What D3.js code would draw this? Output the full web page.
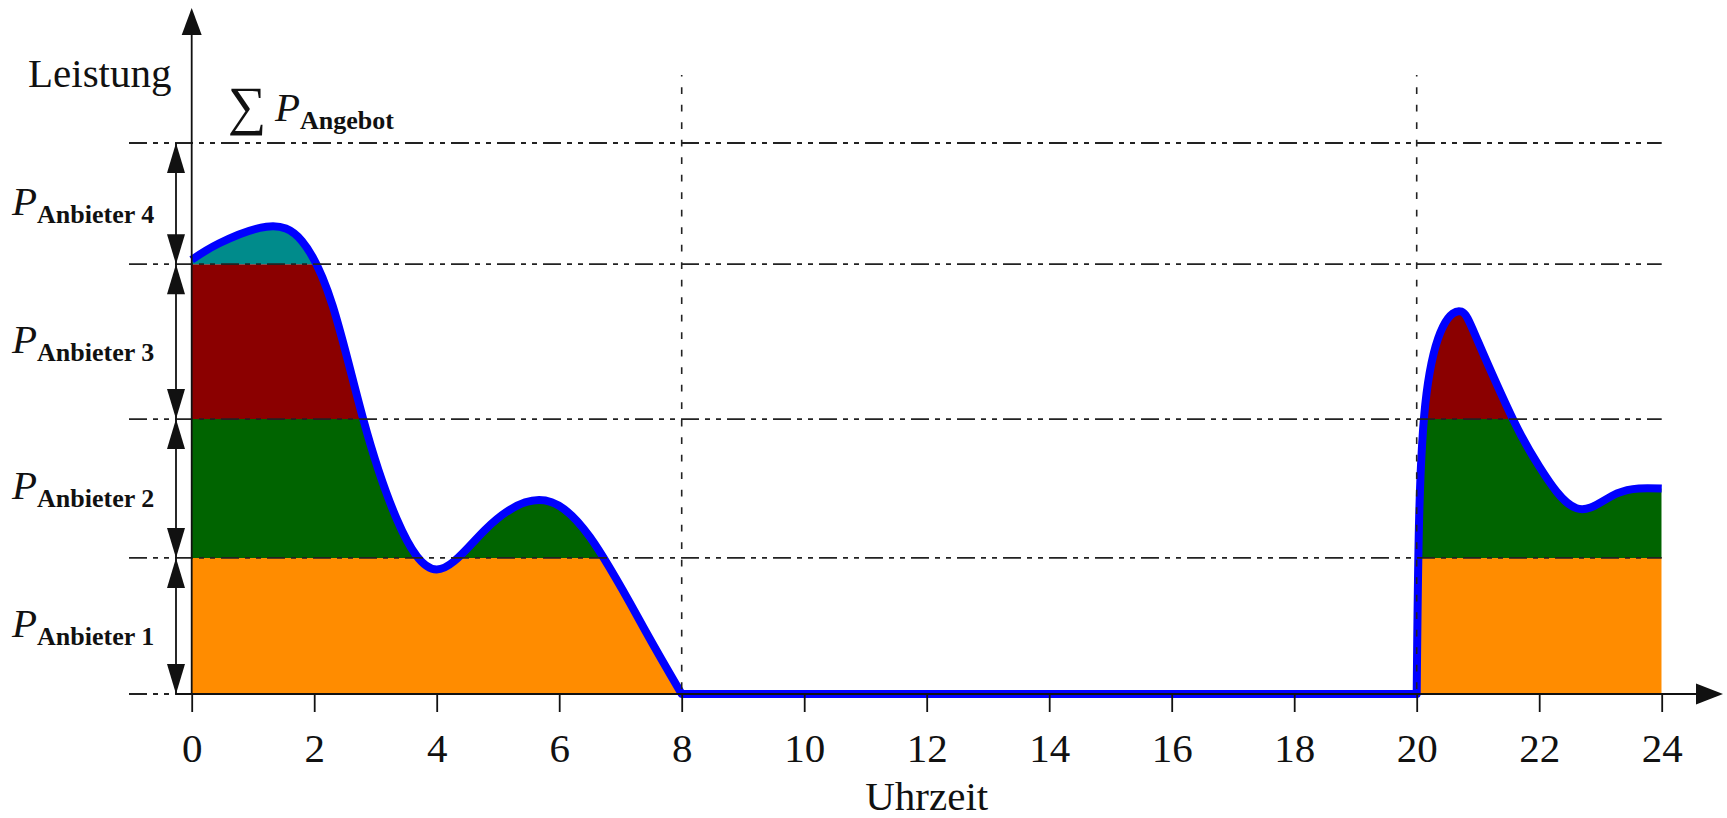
<!DOCTYPE html>
<html>
<head>
<meta charset="utf-8">
<script src="https://cdn.jsdelivr.net/npm/d3@7/dist/d3.min.js"></script>
<style>
    body { margin: 0; background: #fff; }
    text { font-family: "Liberation Serif", "DejaVu Serif", serif; fill: #111; }
</style>
</head>
<body>
<div class="chart"></div>
<script>
// offered power over the day (hours -> power units), three pieces:
// morning, night (zero), evening
const hours = [0, 0.45, 1.22, 1.8, 2.3, 2.8, 3.35, 4.0, 4.79, 5.67, 6.5, 7.37, 8.0,
    20.0, 20.04, 20.16, 20.43, 20.73, 21.0, 21.57, 22.0, 22.61, 23.27, 24.0];
const power = [7.88, 8.18, 8.48, 8.22, 7.05, 4.99, 3.17, 2.26, 2.98, 3.52, 2.85, 1.22, 0,
    0, 3.2, 5.45, 6.67, 6.94, 6.4, 4.99, 4.13, 3.37, 3.64, 3.73];
const pieceEnds = [[0, 12], [12, 13], [13, 23]];

// stacked supplier capacities (cumulative levels)
const levels = [0, 2.47, 4.99, 7.8, 10];
const bandNames = ['Anbieter 1', 'Anbieter 2', 'Anbieter 3', 'Anbieter 4'];
const bandColors = ['#ff8c00', '#006400', '#8b0000', '#008b8b'];

const xTicks = [0, 2, 4, 6, 8, 10, 12, 14, 16, 18, 20, 22, 24];
const markHours = [8, 20];

const width = 1727;
const height = 818;

const svg = d3.select('.chart').append('svg')
    .attr('width', width)
    .attr('height', height);

const x = d3.scaleLinear().domain([0, 24]).range([191.7, 1661.7]);
const y = d3.scaleLinear().domain([0, 10]).range([694, 143]);

const data = hours.map((h, i) => ({h: h, p: power[i]}));
const pieces = pieceEnds.map(([a, b]) => data.slice(a, b + 1));

const area = d3.area()
    .x(d => x(d.h))
    .y0(y(0))
    .y1(d => y(d.p))
    .curve(d3.curveNatural);

const line = d3.line()
    .x(d => x(d.h))
    .y(d => y(d.p))
    .curve(d3.curveNatural);

// one continuous outline: later pieces continue with L instead of M
const outline = pieces.map((p, i) => {
    const d = line(p);
    return i === 0 ? d : 'L' + d.slice(1);
}).join('');
const fillShape = pieces.map(p => area(p)).join('');

// one clip rectangle per supplier band
const defs = svg.append('defs');
bandNames.forEach((name, i) => {
    defs.append('clipPath')
        .attr('id', `band${i}`)
        .append('rect')
        .attr('x', x(0))
        .attr('width', x(24) - x(0))
        .attr('y', y(levels[i + 1]))
        .attr('height', y(levels[i]) - y(levels[i + 1]));
});

svg.selectAll('.band')
    .data(bandNames)
    .enter().append('path')
    .attr('class', 'band')
    .attr('d', fillShape)
    .attr('fill', (d, i) => bandColors[i])
    .attr('clip-path', (d, i) => `url(#band${i})`);

// total offered power
svg.append('path')
    .attr('d', outline)
    .attr('fill', 'none')
    .attr('stroke', '#0000ff')
    .attr('stroke-width', 8)
    .attr('stroke-linejoin', 'round');

// level lines (dash dot dot)
svg.selectAll('.level')
    .data(levels)
    .enter().append('line')
    .attr('class', 'level')
    .attr('x1', 129)
    .attr('x2', x(24))
    .attr('y1', d => y(d))
    .attr('y2', d => y(d))
    .attr('stroke', '#222')
    .attr('stroke-width', 1.8)
    .attr('stroke-dasharray', '18 6 5 6 5 6');

// vertical markers
svg.selectAll('.mark')
    .data(markHours)
    .enter().append('line')
    .attr('class', 'mark')
    .attr('x1', d => x(d))
    .attr('x2', d => x(d))
    .attr('y1', 75)
    .attr('y2', y(0))
    .attr('stroke', '#222')
    .attr('stroke-width', 1.6)
    .attr('stroke-dasharray', '6.7 10.8')
    .attr('stroke-dashoffset', 5.2);

// x axis
const xAxis = svg.append('g')
    .attr('transform', `translate(0,${y(0)})`)
    .call(d3.axisBottom(x).tickValues(xTicks).tickSize(18).tickSizeOuter(0).tickPadding(21));
xAxis.select('.domain').remove();
xAxis.selectAll('.tick line').attr('stroke', '#111').attr('stroke-width', 1.8);
xAxis.selectAll('.tick text')
    .style('font-family', '"Liberation Serif", serif')
    .style('font-size', '41px')
    .attr('fill', '#111');

svg.append('line')
    .attr('x1', 176).attr('x2', 1700)
    .attr('y1', y(0)).attr('y2', y(0))
    .attr('stroke', '#111').attr('stroke-width', 1.8);
svg.append('path')
    .attr('d', `M1723,${y(0)} L1696,${y(0) - 10.5} L1696,${y(0) + 10.5} Z`)
    .attr('fill', '#111');

// y axis
svg.append('line')
    .attr('x1', x(0)).attr('x2', x(0))
    .attr('y1', y(0)).attr('y2', 30)
    .attr('stroke', '#111').attr('stroke-width', 1.8);
svg.append('path')
    .attr('d', `M${x(0)},8 L${x(0) - 10},35 L${x(0) + 10},35 Z`)
    .attr('fill', '#111');

// double arrows marking each band
const ax = 176;
bandNames.forEach((name, i) => {
    const yBot = y(levels[i]);
    const yTop = y(levels[i + 1]);
    svg.append('line')
        .attr('x1', ax).attr('x2', ax)
        .attr('y1', yTop).attr('y2', yBot)
        .attr('stroke', '#111').attr('stroke-width', 1.8);
    svg.append('path')
        .attr('d', `M${ax},${yTop} L${ax - 9},${yTop + 30} L${ax + 9},${yTop + 30} Z`)
        .attr('fill', '#111');
    svg.append('path')
        .attr('d', `M${ax},${yBot} L${ax - 9},${yBot - 30} L${ax + 9},${yBot - 30} Z`)
        .attr('fill', '#111');

    const label = svg.append('text')
        .attr('x', 12)
        .attr('y', (yTop + yBot) / 2 + 11);
    label.append('tspan')
        .style('font-size', '41px')
        .style('font-style', 'italic')
        .text('P');
    label.append('tspan')
        .attr('dy', 8)
        .style('font-size', '26px')
        .style('font-weight', 'bold')
        .text(name);
});

// axis titles
svg.append('text')
    .attr('x', 28)
    .attr('y', 87)
    .style('font-size', '41px')
    .text('Leistung');

svg.append('text')
    .attr('x', x(12))
    .attr('y', 810)
    .attr('text-anchor', 'middle')
    .style('font-size', '41px')
    .text('Uhrzeit');

const sum = svg.append('text')
    .attr('x', 228)
    .attr('y', 124);
sum.append('tspan')
    .style('font-size', '54px')
    .text('∑');
sum.append('tspan')
    .attr('x', 275)
    .attr('dy', -3)
    .style('font-size', '41px')
    .style('font-style', 'italic')
    .text('P');
sum.append('tspan')
    .attr('dy', 8)
    .style('font-size', '26px')
    .style('font-weight', 'bold')
    .text('Angebot');
</script>
</body>
</html>
